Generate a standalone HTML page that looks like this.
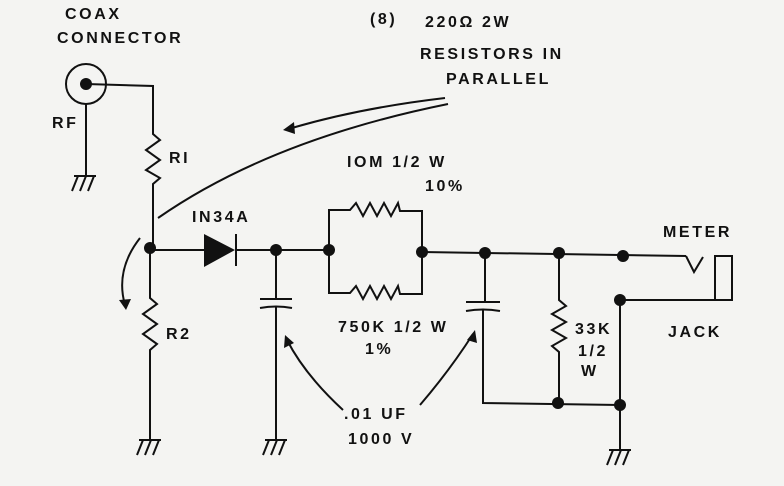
<!DOCTYPE html>
<html><head><style>
html,body{margin:0;padding:0;background:#f4f4f2}
svg{display:block}
text{font-family:"Liberation Sans",sans-serif;font-weight:bold;font-size:16px;fill:#111;letter-spacing:2.6px}
</style></head><body>
<svg width="784" height="486" viewBox="0 0 784 486" xmlns="http://www.w3.org/2000/svg">
<rect width="784" height="486" fill="#f4f4f2"/>
<g stroke="#111" stroke-width="2" fill="none" stroke-linejoin="miter">
<circle cx="86" cy="84" r="20"/>
<polyline points="86,84 153,86 153,130"/>
<line x1="86" y1="104" x2="86" y2="176"/>
<polyline points="153,130 153,134 160,140 146,150 160,160 146,170 160,178 153,184 153,248"/>
<polyline points="150,248 150,298 157,304 143,314 157,324 143,334 157,344 150,350 150,440"/>
<line x1="150" y1="250" x2="204" y2="250"/>
<line x1="236" y1="234" x2="236" y2="266"/>
<line x1="236" y1="250" x2="329" y2="250"/>
<line x1="276" y1="250" x2="276" y2="299"/>
<line x1="260" y1="299" x2="292" y2="299"/>
<path d="M260,308 Q276,305 292,308"/>
<line x1="276" y1="307" x2="276" y2="440"/>
<polyline points="329,250 329,210 350,210 356,203 363,216 370,203 377,216 384,203 391,216 398,203 400,211 422,211 422,252"/>
<polyline points="329,250 329,293 350,293 356,286 363,299 370,286 377,299 384,286 391,299 398,286 400,294 422,294 422,252"/>
<line x1="422" y1="252" x2="686" y2="256"/>
<line x1="485" y1="253" x2="485" y2="302"/>
<line x1="466" y1="302" x2="500" y2="302"/>
<path d="M466,311 Q483,308 500,311"/>
<polyline points="483,310 483,403 620,405"/>
<polyline points="559,253 559,300 566,306 552,314 566,322 552,330 566,338 552,346 559,352 559,403"/>
<polyline points="686,256 694,272 703,257"/>
<rect x="715" y="256" width="17" height="44"/>
<line x1="620" y1="300" x2="715" y2="300"/>
<line x1="620" y1="300" x2="620" y2="450"/>
<g id="g1"><line x1="74" y1="176" x2="96" y2="176"/><line x1="78" y1="176" x2="72" y2="191"/><line x1="86" y1="176" x2="80" y2="191"/><line x1="94" y1="176" x2="88" y2="191"/></g>
<use href="#g1" x="65" y="264"/>
<use href="#g1" x="191" y="264"/>
<use href="#g1" x="535" y="274"/>
<path d="M445,98 Q360,108 292,128"/>
<path d="M448,104 Q270,140 158,218"/>
<path d="M140,238 Q115,270 125,305"/>
<path d="M343,410 Q305,375 287,340"/>
<path d="M420,405 Q450,370 473,334"/>
</g>
<g fill="#111">
<circle cx="86" cy="84" r="6"/>
<circle cx="150" cy="248" r="6"/>
<circle cx="276" cy="250" r="6"/>
<circle cx="329" cy="250" r="6"/>
<circle cx="422" cy="252" r="6"/>
<circle cx="485" cy="253" r="6"/>
<circle cx="559" cy="253" r="6"/>
<circle cx="623" cy="256" r="6"/>
<circle cx="620" cy="300" r="6"/>
<circle cx="558" cy="403" r="6"/>
<circle cx="620" cy="405" r="6"/>
<polygon points="204,234 204,267 235,250"/>
<polygon points="283,130 294,122 295,134"/>
<polygon points="126,310 119,300 131,299"/>
<polygon points="285,335 284,348 294,343"/>
<polygon points="475,330 467,340 477,343"/>
</g>
<text x="65" y="19">COAX</text>
<text x="57" y="43">CONNECTOR</text>
<text x="52" y="128">RF</text>
<text x="169" y="163">RI</text>
<text x="166" y="339">R2</text>
<text x="370" y="24">(8)</text>
<text x="425" y="27">220Ω 2W</text>
<text x="420" y="59">RESISTORS IN</text>
<text x="446" y="84">PARALLEL</text>
<text x="192" y="222">IN34A</text>
<text x="347" y="167">IOM 1/2 W</text>
<text x="425" y="191">10%</text>
<text x="338" y="332">750K 1/2 W</text>
<text x="365" y="354">1%</text>
<text x="575" y="334">33K</text>
<text x="578" y="356">1/2</text>
<text x="581" y="376">W</text>
<text x="663" y="237">METER</text>
<text x="668" y="337">JACK</text>
<text x="344" y="419">.01 UF</text>
<text x="348" y="444">1000 V</text>
</svg>
</body></html>
